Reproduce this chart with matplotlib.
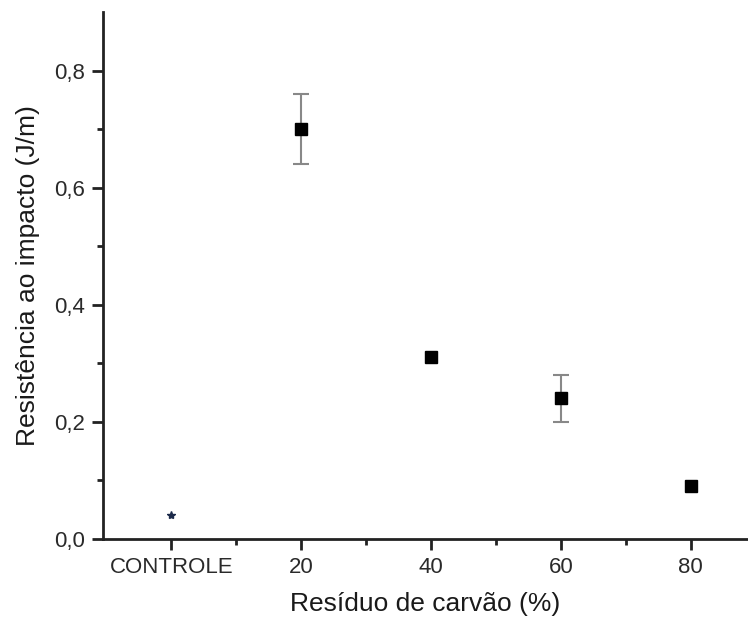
import matplotlib
matplotlib.use('Agg')
import matplotlib.pyplot as plt
from matplotlib.ticker import FixedLocator, FuncFormatter

plt.rcParams['font.family'] = ['Liberation Sans', 'DejaVu Sans']

# data
residuo = [20, 40, 60, 80]
resistencia = [0.70, 0.31, 0.24, 0.09]
erro = [0.06, 0.0, 0.04, 0.0]
controle_x = 0
controle_y = 0.041
xticks = [0, 20, 40, 60, 80]
xlabels = ['CONTROLE', '20', '40', '60', '80']

fig = plt.figure(figsize=(7.48, 6.19), dpi=100)
ax = fig.add_axes([0.1377, 0.1292, 0.8623, 0.8514])

# error bars only where there is a visible spread
ex = [x for x, e in zip(residuo, erro) if e > 0]
ey = [y for y, e in zip(resistencia, erro) if e > 0]
ee = [e for e in erro if e > 0]
ax.errorbar(ex, ey, yerr=ee, fmt='none', ecolor='#888888', elinewidth=1.5,
            capsize=6, capthick=1.5)
ax.plot(residuo, resistencia, 's', color='black', ms=9, zorder=3)
ax.plot([controle_x], [controle_y], marker='*', color='#1c2a4a', ms=6,
        linestyle='none')

ax.set_xlim(-10.5, 88.8)
ax.set_ylim(0, 0.9)

ax.set_xticks(xticks)
ax.set_xticklabels(xlabels)
ax.xaxis.set_minor_locator(FixedLocator([10, 30, 50, 70]))
ax.set_yticks([0, 0.2, 0.4, 0.6, 0.8])
ax.yaxis.set_major_formatter(FuncFormatter(lambda v, p: f'{v:.1f}'.replace('.', ',')))
ax.yaxis.set_minor_locator(FixedLocator([0.1, 0.3, 0.5, 0.7]))

for s in ['top', 'right']:
    ax.spines[s].set_visible(False)
for s in ['left', 'bottom']:
    ax.spines[s].set_linewidth(2)
    ax.spines[s].set_color('#222222')

ax.tick_params(which='major', direction='out', length=8, width=2, color='#222222',
               labelsize=16, labelcolor='#2a2a2a', pad=5)
ax.tick_params(which='minor', direction='out', length=4, width=2, color='#222222')

ax.set_xlabel('Resíduo de carvão (%)', fontsize=19, color='#1a1a1a', labelpad=10)
ax.set_ylabel('Resistência ao impacto (J/m)', fontsize=19, color='#1a1a1a', labelpad=10)

fig.savefig('out.png', dpi=100)
